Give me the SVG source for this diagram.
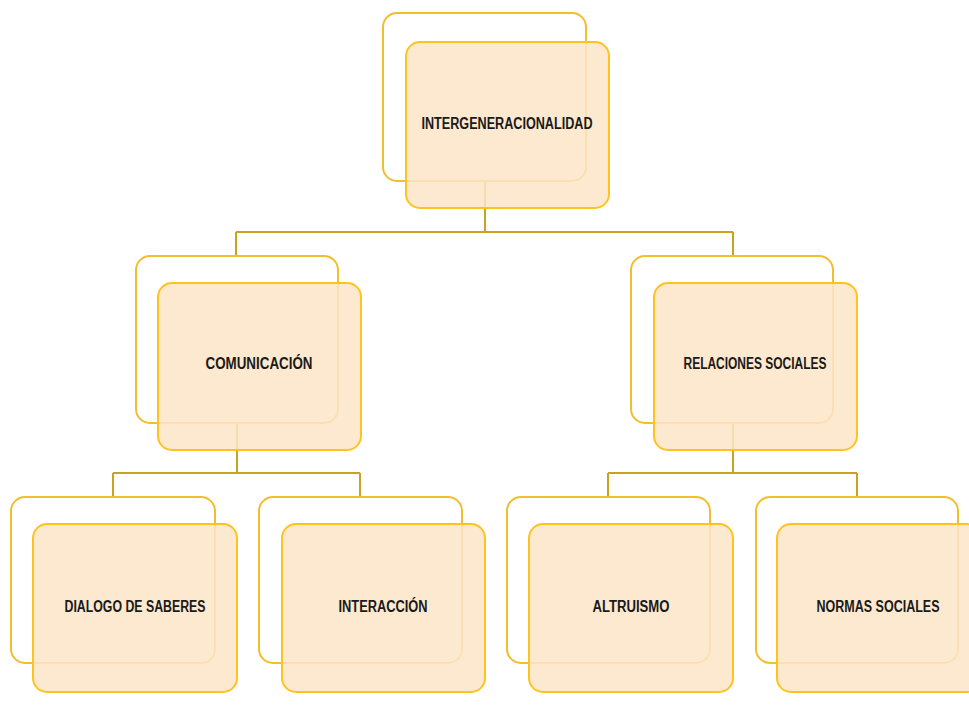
<svg xmlns="http://www.w3.org/2000/svg" width="969" height="711" viewBox="0 0 969 711">
<style>
.back{fill:none;stroke:#F2BE2C;stroke-width:2}
.front{fill:#FDE5C8;fill-opacity:0.85;stroke:#FFC31F;stroke-width:2}
.lbl{font-family:"Liberation Sans",Arial,sans-serif;font-weight:bold;font-size:16px;fill:#1a1a1a;text-anchor:middle}
.conn{fill:none;stroke:#C9A21E;stroke-width:2}
</style>
<rect width="969" height="711" fill="#ffffff"/>
<g id="connectors">
<path class="conn" d="M485 181V232M236 232H733M236 232V256M733 232V256"/>
<path class="conn" d="M237 423V473M113 473H360M113 473V497M360 473V497"/>
<path class="conn" d="M733 423V473M608 473H857M608 473V497M857 473V497"/>
</g>
<g id="n-intergeneracionalidad">
<rect class="back" x="383" y="13" width="203" height="168" rx="14"/>
<rect class="front" x="406" y="42" width="203" height="166" rx="14"/>
<text class="lbl" x="507" y="128.5" textLength="171" lengthAdjust="spacingAndGlyphs">INTERGENERACIONALIDAD</text>
</g>
<g id="n-comunicacion">
<rect class="back" x="136" y="256" width="202" height="167" rx="14"/>
<rect class="front" x="158" y="283" width="203" height="167" rx="14"/>
<text class="lbl" x="259" y="368.5" textLength="107" lengthAdjust="spacingAndGlyphs">COMUNICACIÓN</text>
</g>
<g id="n-relaciones">
<rect class="back" x="631" y="256" width="202" height="167" rx="14"/>
<rect class="front" x="654" y="283" width="203" height="167" rx="14"/>
<text class="lbl" x="755" y="368.5" textLength="143" lengthAdjust="spacingAndGlyphs">RELACIONES SOCIALES</text>
</g>
<g id="n-dialogo">
<rect class="back" x="11" y="497" width="204" height="166" rx="14"/>
<rect class="front" x="33" y="524" width="204" height="168" rx="14"/>
<text class="lbl" x="135" y="611.5" textLength="141" lengthAdjust="spacingAndGlyphs">DIALOGO DE SABERES</text>
</g>
<g id="n-interaccion">
<rect class="back" x="259" y="497" width="203" height="166" rx="14"/>
<rect class="front" x="282" y="524" width="203" height="168" rx="14"/>
<text class="lbl" x="383" y="611.5" textLength="89" lengthAdjust="spacingAndGlyphs">INTERACCIÓN</text>
</g>
<g id="n-altruismo">
<rect class="back" x="507" y="497" width="203" height="166" rx="14"/>
<rect class="front" x="529" y="524" width="204" height="168" rx="14"/>
<text class="lbl" x="631" y="611.5" textLength="77" lengthAdjust="spacingAndGlyphs">ALTRUISMO</text>
</g>
<g id="n-normas">
<rect class="back" x="756" y="497" width="202" height="166" rx="14"/>
<rect class="front" x="777" y="524" width="203" height="168" rx="14"/>
<text class="lbl" x="878" y="611.5" textLength="123" lengthAdjust="spacingAndGlyphs">NORMAS SOCIALES</text>
</g>
</svg>
